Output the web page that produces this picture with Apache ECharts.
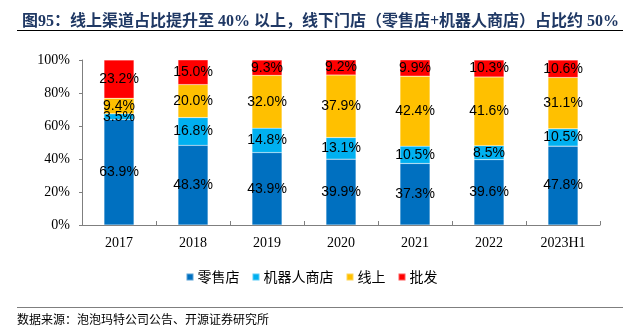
<!DOCTYPE html>
<html><head><meta charset="utf-8">
<script src="https://cdn.jsdelivr.net/npm/echarts@6/dist/echarts.min.js"></script>
<style>html,body{margin:0;padding:0;background:#fff}#c{width:623px;height:336px}</style>
</head><body><div id="c"></div>
<script>
const categories = ['2017','2018','2019','2020','2021','2022','2023H1'];
const seriesNames = ['零售店','机器人商店','线上','批发'];
const retail = [63.9,48.3,43.9,39.9,37.3,39.6,47.8];
const robot = [3.5,16.8,14.8,13.1,10.5,8.5,10.5];
const online = [9.4,20.0,32.0,37.9,42.4,41.6,31.1];
const wholesale = [23.2,15.0,9.3,9.2,9.9,10.3,10.6];
const yTicks = [0,20,40,60,80,100];
const colors = ['#0070C0','#00B0F0','#FFC000','#FF0000'];
const values = [retail, robot, online, wholesale];

const chart = echarts.init(document.getElementById('c'));
chart.setOption({
  animation:false,
  title:{text:'图95：线上渠道占比提升至 40% 以上，线下门店（零售店+机器人商店）占比约 50%',left:17,top:9,
    textStyle:{fontFamily:'"Liberation Serif","Noto Sans CJK SC"',fontSize:16,fontWeight:'bold',color:'#1F3864'}},
  graphic:[
    {type:'line',shape:{x1:17,y1:30.5,x2:623,y2:30.5},style:{stroke:'#000',lineWidth:1}},
    {type:'line',shape:{x1:17,y1:307.5,x2:623,y2:307.5},style:{stroke:'#7f7f7f',lineWidth:1}},
    {type:'text',left:17,top:313,style:{text:'数据来源：泡泡玛特公司公告、开源证券研究所',font:'12px "Noto Sans CJK SC"',fill:'#000'}}
  ],
  legend:{top:265,left:'center',itemWidth:7,itemHeight:7,itemGap:12,icon:'rect',
    textStyle:{fontFamily:'"Noto Sans CJK SC"',fontSize:14,color:'#000',padding:[0,0,0,-1]},data:seriesNames},
  grid:{left:82,right:23,top:60,bottom:111},
  xAxis:{type:'category',data:categories,
    axisLine:{lineStyle:{color:'#7f7f7f'}},
    axisTick:{show:true,inside:true,length:4,lineStyle:{color:'#7f7f7f'}},
    axisLabel:{fontFamily:'"Liberation Serif"',fontSize:14,color:'#000',margin:11}},
  yAxis:{type:'value',min:0,max:100,interval:20,
    axisLine:{show:true,lineStyle:{color:'#7f7f7f'}},
    axisTick:{show:true,length:3,lineStyle:{color:'#7f7f7f'}},
    splitLine:{show:false},
    axisLabel:{fontFamily:'"Liberation Serif"',fontSize:14,color:'#000',margin:12,
      formatter:v=>yTicks.includes(v)?v+'%':''}},
  series: seriesNames.map((n,i)=>({
    name:n,type:'bar',stack:'t',barWidth:30,data:values[i],
    itemStyle:{color:colors[i],borderColor:'rgba(255,255,255,0.35)',borderWidth:0.5},
    label:{show:true,position:'inside',formatter:p=>p.value.toFixed(1)+'%',
      fontFamily:'"Liberation Sans"',fontSize:14,color:'#000'}
  }))
});
</script></body></html>
